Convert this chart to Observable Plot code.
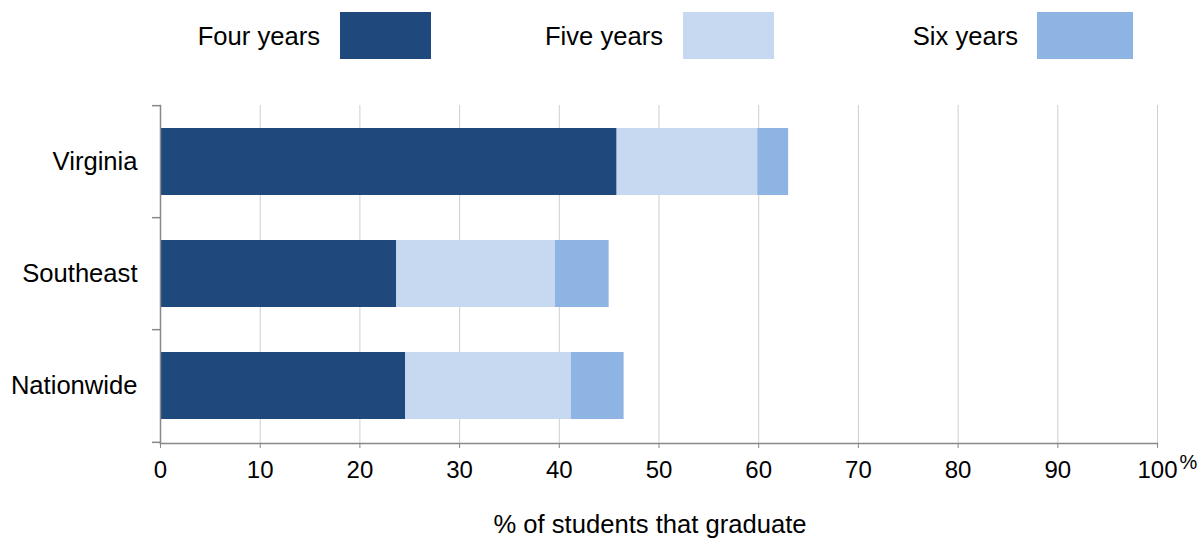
<!DOCTYPE html>
<html>
<head>
<meta charset="utf-8">
<script src="https://cdn.jsdelivr.net/npm/d3@7"></script>
<script src="https://cdn.jsdelivr.net/npm/@observablehq/plot@0.6"></script>
<style>
  body { margin: 0; background: #fff; font-family: "Liberation Sans", Arial, sans-serif; }
  #wrap { width: 1202px; }
  #legend { position: relative; width: 1202px; height: 75px; }
  .lg-label { position: absolute; top: 21px; font-size: 25.6px; line-height: 30px; color: #000; text-align: right; white-space: nowrap; }
  .lg-swatch { position: absolute; top: 12px; height: 47px; }
  svg { display: block; }
</style>
</head>
<body>
<div id="wrap">
  <div id="legend"></div>
  <div id="chart"></div>
</div>
<script>
const categories = ["Virginia", "Southeast", "Nationwide"];
const series = ["Four years", "Five years", "Six years"];
const colors = ["#1f497d", "#c6d9f1", "#8eb4e3"];
const fourYears = [45.8, 23.7, 24.6];
const fiveYears = [14.1, 15.9, 16.6];
const sixYears = [3.1, 5.4, 5.3];
const xTicks = [0, 10, 20, 30, 40, 50, 60, 70, 80, 90, 100];
const xLabel = "% of students that graduate";

const seriesValues = [fourYears, fiveYears, sixYears];
const rows = [];
series.forEach((s, si) => {
  categories.forEach((c, ci) => rows.push({category: c, series: s, value: seriesValues[si][ci]}));
});

// Legend (HTML, above the SVG)
const legendLayout = [
  {labelRight: 320, swLeft: 340, swWidth: 91},
  {labelRight: 663, swLeft: 683, swWidth: 91},
  {labelRight: 1018, swLeft: 1037, swWidth: 96}
];
const legend = document.getElementById("legend");
series.forEach((s, i) => {
  const L = legendLayout[i];
  const lab = document.createElement("span");
  lab.className = "lg-label";
  lab.textContent = s;
  lab.style.right = (1202 - L.labelRight) + "px";
  legend.appendChild(lab);
  const sw = document.createElement("span");
  sw.className = "lg-swatch";
  sw.style.left = L.swLeft + "px";
  sw.style.width = L.swWidth + "px";
  sw.style.background = colors[i];
  legend.appendChild(sw);
});

const W = 1202, H = 463, mt = 30, mb = 95, ml = 160, mr = 45;
const step = (H - mt - mb) / categories.length;

const chart = Plot.plot({
  width: W,
  height: H,
  marginTop: mt,
  marginBottom: mb,
  marginLeft: ml,
  marginRight: mr,
  style: {fontFamily: "'Liberation Sans', Arial, sans-serif", color: "#000", background: "#fff"},
  x: {domain: [0, 100], ticks: xTicks},
  y: {domain: categories, paddingInner: 0.4, paddingOuter: 0.2},
  color: {domain: series, range: colors},
  marks: [
    Plot.gridX(xTicks, {stroke: "#cfcfcf", strokeOpacity: 1, strokeWidth: 1}),
    Plot.barX(rows, {x: "value", y: "category", fill: "series", order: series}),
    // category boundary ticks on the y axis
    Plot.ruleY(categories, {y: d => d, x1: -0.8, x2: 0, dy: -step / 2, stroke: "#888", strokeWidth: 1.5}),
    Plot.ruleY(categories.slice(-1), {y: d => d, x1: -0.8, x2: 0, dy: step / 2, stroke: "#888", strokeWidth: 1.5}),
    Plot.frame({anchor: "left", stroke: "#888", strokeWidth: 1.5}),
    Plot.frame({anchor: "bottom", stroke: "#888", strokeWidth: 1.5}),
    Plot.axisY({tickSize: 0, tickPadding: 23, fontSize: 25.6, label: null}),
    Plot.axisX(xTicks, {tickSize: 5, tickPadding: 12, fontSize: 24, stroke: "#888", label: null}),
    Plot.text([xLabel], {frameAnchor: "bottom", dx: -9, dy: 81, fontSize: 25.6, fill: "#000", lineAnchor: "middle"}),
    Plot.text(["%"], {x: () => xTicks[xTicks.length - 1], frameAnchor: "bottom", dx: 31, dy: 19, fontSize: 20, fill: "#000", lineAnchor: "middle"})
  ]
});
document.getElementById("chart").appendChild(chart);
</script>
</body>
</html>
